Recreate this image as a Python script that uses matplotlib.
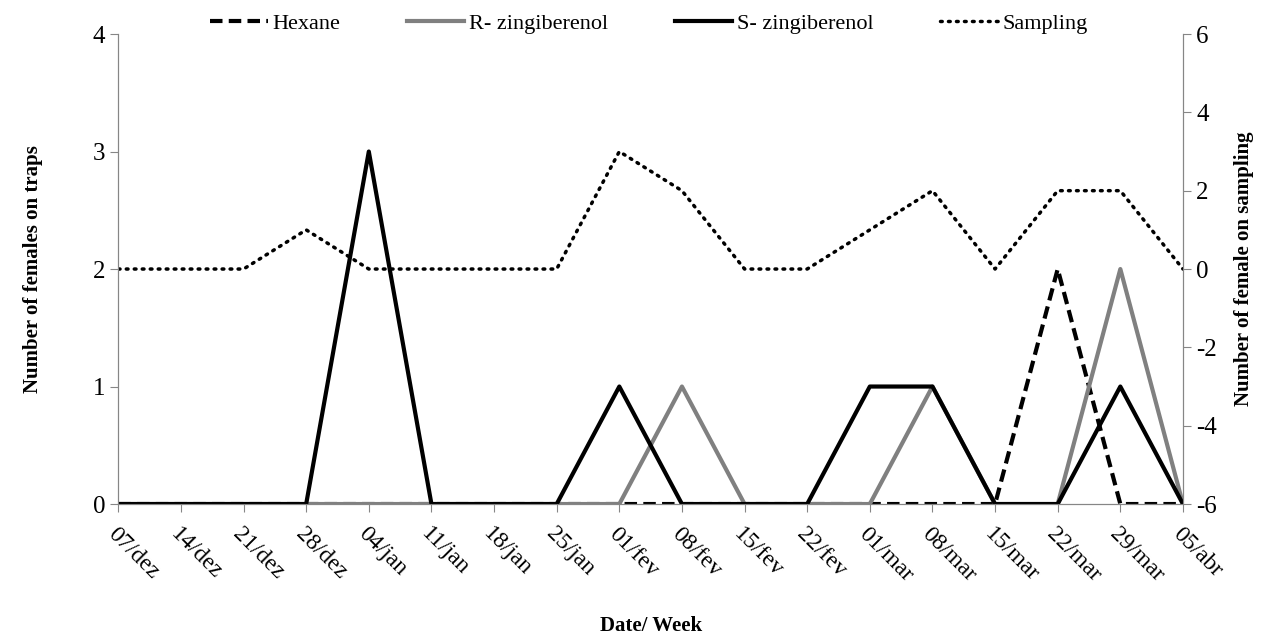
import matplotlib.pyplot as plt
import numpy as np

plt.rcParams['font.family'] = ['Liberation Serif', 'DejaVu Serif']
plt.rcParams['axes.unicode_minus'] = False

# weekly dates
weeks = ['07/dez', '14/dez', '21/dez', '28/dez', '04/jan', '11/jan', '18/jan', '25/jan',
         '01/fev', '08/fev', '15/fev', '22/fev', '01/mar', '08/mar', '15/mar', '22/mar',
         '29/mar', '05/abr']

# females on traps (left axis)
hexane = [0, 0, 0, 0, 0, 0, 0, 0, 0, 0, 0, 0, 0, 0, 0, 2, 0, 0]
r_zing = [0, 0, 0, 0, 0, 0, 0, 0, 0, 1, 0, 0, 0, 1, 0, 0, 2, 0]
s_zing = [0, 0, 0, 0, 3, 0, 0, 0, 1, 0, 0, 0, 1, 1, 0, 0, 1, 0]
# females on sampling (right axis)
sampling = [0, 0, 0, 1, 0, 0, 0, 0, 3, 2, 0, 0, 1, 2, 0, 2, 2, 0]

x = np.arange(len(weeks))
axis_grey = '#868686'

fig = plt.figure(figsize=(12.72, 6.36), dpi=100)
ax = fig.add_axes([0.093, 0.2075, 0.837, 0.739])
ax2 = ax.twinx()

h1, = ax.plot(x, hexane, color='black', lw=3, ls=(0, (3, 1.5)), label='Hexane', zorder=2)
h2, = ax.plot(x, r_zing, color='#808080', lw=3, label='R- zingiberenol', zorder=3)
h3, = ax.plot(x, s_zing, color='black', lw=3, label='S- zingiberenol', zorder=4)
h4, = ax2.plot(x, sampling, color='black', lw=2.5, ls=(0, (0.5, 1.8)),
               dash_capstyle='round', label='Sampling')

ax.set_xlim(0, len(weeks) - 1)
ax.set_ylim(0, 4)
ax.set_yticks([0, 1, 2, 3, 4])
ax2.set_ylim(-6, 6)
ax2.set_yticks([-6, -4, -2, 0, 2, 4, 6])

ax.set_xticks(x)
ax.set_xticklabels(weeks, rotation=-45, ha='left', va='top', rotation_mode='anchor')

for a in (ax, ax2):
    a.spines['top'].set_visible(False)
    for side in ('left', 'right', 'bottom'):
        a.spines[side].set_color(axis_grey)
    a.tick_params(colors=axis_grey, labelcolor='black', labelsize=18, length=6, direction='out')
ax.tick_params(axis='x', pad=8, labelsize=17)

ax.set_ylabel('Number of females on traps', fontsize=15, fontweight='bold', labelpad=36)
ax2.set_ylabel('Number of female on sampling', fontsize=15, fontweight='bold', labelpad=12)
ax.set_xlabel('Date/ Week', fontsize=15, fontweight='bold', labelpad=22)

fig.legend(handles=[h1, h2, h3, h4], loc='upper center', bbox_to_anchor=(0.51, 1.01),
           ncol=4, frameon=False, fontsize=16, handlelength=2.6, columnspacing=3.0,
           handletextpad=0.2)

fig.savefig('out.png', dpi=100)
